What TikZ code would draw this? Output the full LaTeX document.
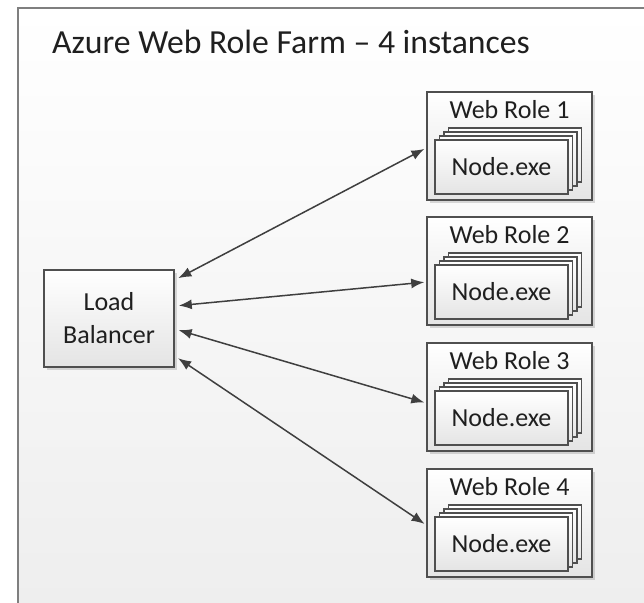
\documentclass[tikz,border=0pt]{standalone}
\usepackage{fontspec}
\setmainfont{Carlito}
\usetikzlibrary{arrows.meta,shadows}
\definecolor{framegray}{HTML}{7F7F7F}
\definecolor{boxgray}{HTML}{4F4F4F}
\definecolor{linkgray}{HTML}{3F3F3F}
\definecolor{bglow}{HTML}{EDEDED}
\definecolor{boxlow}{HTML}{E4E4E4}
\begin{document}
\begin{tikzpicture}[x = 1pt, y = -1pt,
        farm/.style = {draw = framegray, line width = 2.5pt, top color = white, bottom color = bglow},
        title/.style = {anchor = base west, inner sep = 0pt, font = \fontsize{33.7}{40}\selectfont, text = black!88},
        box/.style = {draw = boxgray, line width = 1.6pt, top color = white, bottom color = boxlow,
            drop shadow = {shadow xshift = 3pt, shadow yshift = -3pt, fill = black, opacity = 0.14}},
        lbbox/.style = {box, minimum width = 130pt, minimum height = 97pt, align = center,
            font = \fontsize{26}{33}\selectfont, text = black!88},
        rolebox/.style = {box, minimum width = 165pt, minimum height = 108pt},
        rolelabel/.style = {anchor = base, inner sep = 0pt, font = \fontsize{26}{32}\selectfont, text = black!88},
        exebox/.style = {draw = boxgray, line width = 1.4pt, top color = white, bottom color = boxlow,
            minimum width = 133pt, minimum height = 54pt, font = \fontsize{26}{32}\selectfont, text = black!88},
        link/.style = {{Latex[length = 13pt, width = 10pt]}-{Latex[length = 13pt, width = 10pt]},
            draw = linkgray, line width = 1.5pt, shorten < = 4pt, shorten > = 2pt}]
        \useasboundingbox[fill = white] (0, 0) rectangle (644, 602);
        \draw[farm] (18, 8) rectangle (670, 640);
        \node[title] (farmtitle) at (52, 53) {Azure Web Role Farm – 4 instances};

        % load balancer
        \node[lbbox] (lb) at (109, 318.5) {Load\\Balancer};

        % web role 1
        \node[rolebox] (wr1) at (509.5, 146) {};
        \node[rolelabel] (wr1t) at (509.5, 118) {Web Role 1};
        \node[exebox] (wr1d) at (515, 155) {};
        \node[exebox] (wr1c) at (510.5, 159) {};
        \node[exebox] (wr1b) at (506, 163) {};
        \node[exebox] (wr1a) at (501.5, 167) {Node.exe};

        % web role 2
        \node[rolebox] (wr2) at (509.5, 271) {};
        \node[rolelabel] (wr2t) at (509.5, 243) {Web Role 2};
        \node[exebox] (wr2d) at (515, 280) {};
        \node[exebox] (wr2c) at (510.5, 284) {};
        \node[exebox] (wr2b) at (506, 288) {};
        \node[exebox] (wr2a) at (501.5, 292) {Node.exe};

        % web role 3
        \node[rolebox] (wr3) at (509.5, 397) {};
        \node[rolelabel] (wr3t) at (509.5, 369) {Web Role 3};
        \node[exebox] (wr3d) at (515, 406) {};
        \node[exebox] (wr3c) at (510.5, 410) {};
        \node[exebox] (wr3b) at (506, 414) {};
        \node[exebox] (wr3a) at (501.5, 418) {Node.exe};

        % web role 4
        \node[rolebox] (wr4) at (509.5, 523) {};
        \node[rolelabel] (wr4t) at (509.5, 495) {Web Role 4};
        \node[exebox] (wr4d) at (515, 532) {};
        \node[exebox] (wr4c) at (510.5, 536) {};
        \node[exebox] (wr4b) at (506, 540) {};
        \node[exebox] (wr4a) at (501.5, 544) {Node.exe};

        % links
        \draw[link] ([yshift = 38.5pt] lb.east) -- ([yshift = -2pt] wr1.west);
        \draw[link] ([yshift = 12.5pt] lb.east) -- ([yshift = -11pt] wr2.west);
        \draw[link] ([yshift = -10.5pt] lb.east) -- ([yshift = -6pt] wr3.west);
        \draw[link] ([yshift = -37.5pt] lb.east) -- ([yshift = -2pt] wr4.west);
    \end{tikzpicture}
\end{document}
